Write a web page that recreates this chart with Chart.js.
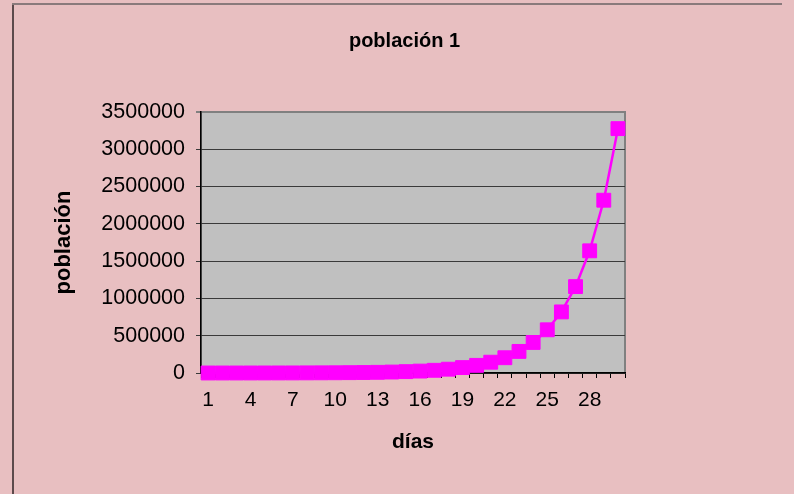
<!DOCTYPE html>
<html lang="es">
<head>
<meta charset="UTF-8">
<title>población 1</title>
<script src="https://cdn.jsdelivr.net/npm/chart.js@4"></script>
<style>
  html, body { margin: 0; padding: 0; overflow: hidden; }
  body { background: #e8bfc1; width: 794px; height: 494px; position: relative; }
  .edge-left { position: absolute; left: 12px; top: 3px; width: 2px; height: 491px; background: #5c4a4c; }
  .edge-top { position: absolute; left: 12px; top: 3px; width: 770px; height: 2px; background: #8a7a7c; }
  .wrap { position: absolute; left: 0; top: 0; width: 794px; height: 494px; }
  canvas { display: block; }
</style>
</head>
<body>
<div class="edge-left"></div>
<div class="edge-top"></div>
<div class="wrap"><canvas id="chart" width="794" height="494"></canvas></div>
<script>
// days 1..30
const dias = ['1','2','3','4','5','6','7','8','9','10','11','12','13','14','15',
              '16','17','18','19','20','21','22','23','24','25','26','27','28','29','30'];
// values
const poblacion = [140, 200, 280, 400, 570, 800, 1130, 1600, 2260, 3200,
                   4530, 6400, 9050, 12800, 18100, 25600, 36200, 51200, 72400, 102400,
                   144800, 204800, 289600, 409600, 579300, 819200, 1158500, 1638400, 2317000, 3276800];
const yMax = 3500000;
const yStep = 500000;

// gray plot area with its frame
const plotBg = {
  id: 'plotBg',
  beforeDraw(chart) {
    const { ctx, chartArea: a } = chart;
    ctx.save();
    ctx.fillStyle = '#c0c0c0';
    ctx.fillRect(a.left, a.top, a.right - a.left, a.bottom - a.top);
    ctx.strokeStyle = '#808080';
    ctx.lineWidth = 2;
    ctx.strokeRect(a.left, a.top, a.right - a.left, a.bottom - a.top);
    ctx.restore();
  }
};

const font = 'Liberation Sans, Arial, sans-serif';

new Chart(document.getElementById('chart'), {
  type: 'line',
  data: {
    labels: dias,
    datasets: [{
      label: 'población',
      data: poblacion,
      borderColor: '#ff00ff',
      backgroundColor: '#ff00ff',
      borderWidth: 2.5,
      pointStyle: 'rect',
      pointRadius: 9.8,
      pointBorderWidth: 1,
      pointBackgroundColor: '#ff00ff',
      pointBorderColor: '#ff00ff',
      tension: 0,
      clip: false,
    }],
  },
  options: {
    responsive: false,
    animation: false,
    devicePixelRatio: 1,
    layout: { padding: { left: 15, right: 0, top: 0, bottom: 0 } },
    plugins: {
      legend: { display: false },
      tooltip: { enabled: false },
      title: {
        display: true,
        text: 'población 1',
        color: '#000',
        font: { family: font, size: 20, weight: 'bold', lineHeight: 1.2 },
        padding: { top: 29, bottom: 59 },
      },
    },
    scales: {
      x: {
        offset: true,
        grid: { offset: true, drawOnChartArea: false, drawTicks: true, tickLength: 5, color: '#000' },
        border: { color: '#000', width: 1.5 },
        ticks: {
          autoSkip: false, maxRotation: 0, padding: 10, color: '#000',
          font: { family: font, size: 21 },
          callback: (v, i) => (i % 3 === 0 ? dias[i] : ''),
        },
        title: {
          display: true, text: 'días', color: '#000',
          font: { family: font, size: 21, weight: 'bold', lineHeight: 1.2 },
          padding: { top: 0, bottom: 39 },
        },
        afterFit: s => { s.height = 121; },
      },
      y: {
        min: 0, max: yMax,
        grid: {
          tickLength: 5,
          color: ctx => (ctx.tick && ctx.tick.value === yMax ? '#808080' : '#3a3a3a'),
          lineWidth: ctx => (ctx.tick && ctx.tick.value === yMax ? 2 : 1),
        },
        border: { color: '#000', width: 1.5 },
        ticks: {
          stepSize: yStep, padding: 11, color: '#000',
          font: { family: font, size: 21.5 },
          callback: v => String(v),
        },
        title: {
          display: true, text: 'población', color: '#000',
          font: { family: font, size: 22, weight: 'bold', lineHeight: 1.2 },
          padding: { top: 36, bottom: 0 },
        },
        afterFit: s => { s.width = 186; },
      },
      yRight: {
        position: 'right',
        display: true,
        grid: { display: false },
        border: { display: false },
        ticks: { display: false },
        afterFit: s => { s.width = 169; },
      },
    },
  },
  plugins: [plotBg],
});
</script>
</body>
</html>
